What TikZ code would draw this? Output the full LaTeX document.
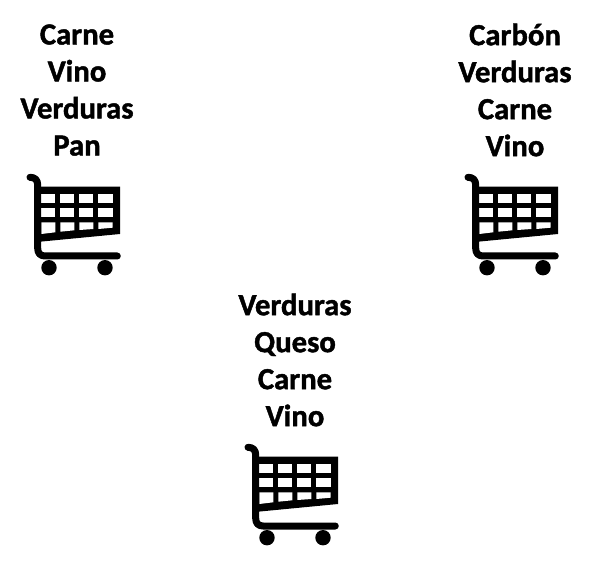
\documentclass[tikz,border=0pt]{standalone}
\usepackage{fontspec}
\setmainfont[BoldFeatures={FakeBold=1.4}]{Carlito}
\usetikzlibrary{positioning}
\tikzset{
    lista/.style={align=center, inner sep=0pt, font=\fontsize{30.7}{37}\selectfont\bfseries},
    carrito/.pic={
        % basket
        \fill[black] (-37,-33.3) -- (43,-33.3) -- (43,14) -- (-37,21.7) -- cycle ;
        \foreach \xa/\xb/\ya/\yb in {-35.7/-21.7/14/12.3, -16.7/-2.7/11.7/10.3, 2.3/16.3/10/9, 21.3/35.7/9/7.7}{
            \fill[white] (\xa,-25.7) rectangle (\xb,-16.7) ;
            \fill[white] (\xa,-11.7) rectangle (\xb,-2.7) ;
            \fill[white] (\xa,2.3) -- (\xb,2.3) -- (\xb,\yb) -- (\xa,\ya) -- cycle ;
        }
        % frame
        \draw[black, line width=7pt, line cap=round, line join=round]
            (-47,-42.7) .. controls (-42,-42.7) and (-39.3,-40) .. (-39.3,-35)
            -- (-39.3,28.3) .. controls (-39.3,33) and (-37,36) .. (-32,36) -- (40.3,36) ;
        % wheels
        \fill[black] (-28,47.7) circle (7.7) ;
        \fill[black] (28,47.7) circle (7.7) ;
    }
}
\begin{document}
\begin{tikzpicture}[x=1pt, y=-1pt]
    \useasboundingbox (0,0) rectangle (598,564) ;
    \node[lista] (lista_a) at (77,90) {Carne\\Vino\\Verduras\\Pan} ; %
    \node[lista, right=of lista_a.center, anchor=center, xshift=438pt-1cm] (lista_b) {Carbón\\Verduras\\Carne\\Vino} ; %
    \node[lista, right=of lista_a.center, anchor=center, xshift=218pt-1cm, yshift=-270pt] (lista_c) {Verduras\\Queso\\Carne\\Vino} ; %
% carts
    \pic at ([yshift=-130pt]lista_a.center) {carrito} ; %
    \pic at ([yshift=-130pt]lista_b.center) {carrito} ; %
    \pic at ([yshift=-130pt]lista_c.center) {carrito} ; %
\end{tikzpicture}
\end{document}
